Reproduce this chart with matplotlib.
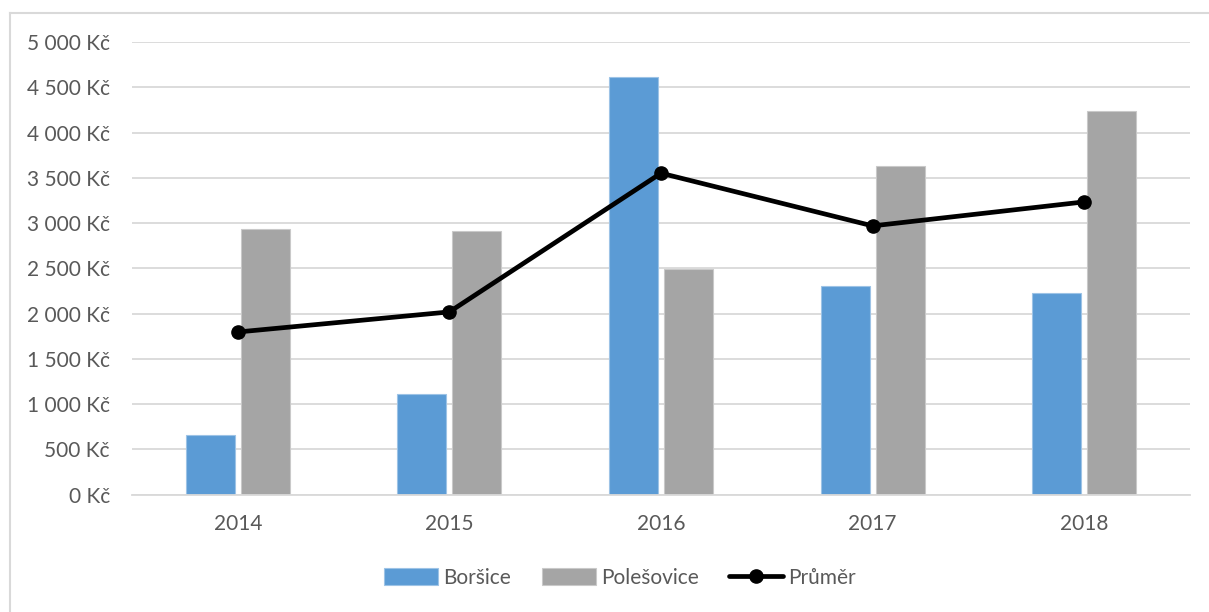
import matplotlib
matplotlib.use("Agg")
import matplotlib.pyplot as plt
from matplotlib.lines import Line2D
import numpy as np

years = ["2014", "2015", "2016", "2017", "2018"]
borsice = [656, 1113, 4612, 2306, 2225]
polesovice = [2932, 2911, 2490, 3632, 4236]
prumer = [1797, 2019, 3551, 2969, 3234]
yticks = [0, 500, 1000, 1500, 2000, 2500, 3000, 3500, 4000, 4500, 5000]

plt.rcParams['font.family'] = ['Lato', 'DejaVu Sans']
txt = '#595959'
grid = '#D9D9D9'

fig = plt.figure(figsize=(12.09, 6.12), dpi=100)
ax = fig.add_axes([132/1209, 117.3/612, (1190-132)/1209, (494.7-42)/612])

x = np.arange(len(years))
w = 0.232
off = 0.13
b1 = ax.bar(x - off, borsice, w, color='#5B9BD5', edgecolor='#9DC3E6', linewidth=0.8, label='Boršice', zorder=2)
b2 = ax.bar(x + off, polesovice, w, color='#A5A5A5', edgecolor='#C9C9C9', linewidth=0.8, label='Polešovice', zorder=2)
l1, = ax.plot(x, prumer, color='black', linewidth=3.4, marker='o', markersize=9.5, label='Průměr', zorder=3,
              solid_capstyle='round')

ax.set_xlim(-0.5, 4.5)
ax.set_ylim(0, 5000)
ax.set_yticks(yticks)
ax.set_yticklabels([f"{v:,}".replace(",", " ") + " Kč" for v in yticks])
ax.set_xticks(x)
ax.set_xticklabels(years)
ax.tick_params(axis='both', length=0, labelsize=15, colors=txt)
ax.tick_params(axis='y', pad=16)
ax.tick_params(axis='x', pad=14)
ax.grid(axis='y', color=grid, linewidth=1.3, zorder=0)
ax.set_axisbelow(True)
for s in ['left', 'right', 'top']:
    ax.spines[s].set_visible(False)
ax.spines['bottom'].set_color(grid)
ax.spines['bottom'].set_linewidth(1.3)

leg = fig.legend([b1, b2, l1], ['Boršice', 'Polešovice', 'Průměr'], loc='center',
                 bbox_to_anchor=(620/1209, 1 - 578/612), ncol=3, frameon=False,
                 fontsize=15, handlelength=2.6, handleheight=0.85, columnspacing=1.45, handletextpad=0.25)
for t in leg.get_texts():
    t.set_color(txt)

# outer border of the chart frame (left and top)
fig.add_artist(Line2D([10/1209, 10/1209], [0, 1 - 12.5/612], transform=fig.transFigure, color='#D9D9D9', linewidth=1.5))
fig.add_artist(Line2D([10/1209, 1], [1 - 12.5/612, 1 - 12.5/612], transform=fig.transFigure, color='#D9D9D9', linewidth=1.5))

fig.savefig('out.png', dpi=100)
